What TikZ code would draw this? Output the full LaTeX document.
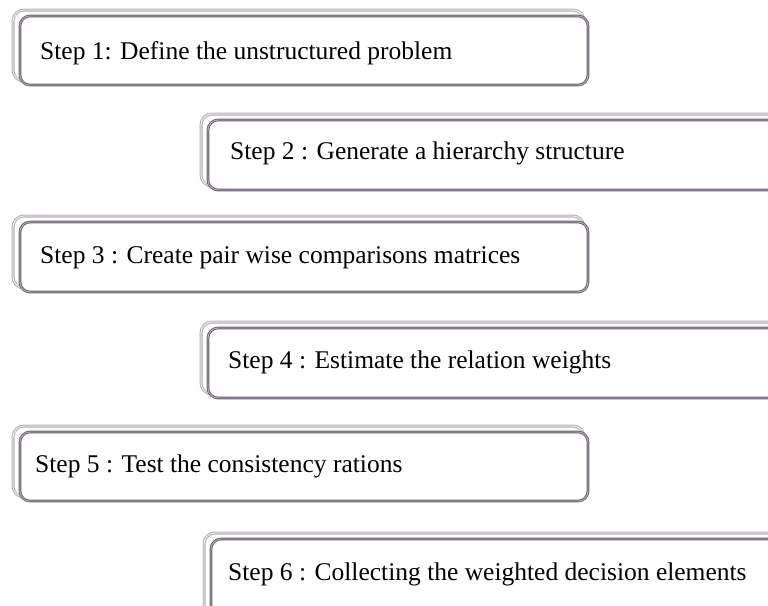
\documentclass[tikz,border=0pt]{standalone}
\usepackage{fontspec}
\setmainfont{Liberation Serif}
\begin{document}
\definecolor{frameouter}{HTML}{B7B3BA}
\definecolor{frameinner}{HTML}{6C6270}
\definecolor{framemid}{HTML}{B3ABB6}
\tikzset{
  backframe/.style={draw=frameouter, double=white!85!frameouter, double distance=0.8pt,
    line width=1.1pt, rounded corners=11pt},
  frontframe/.style={draw=frameinner, double=framemid, double distance=0.9pt,
    line width=0.9pt, fill=white, rounded corners=10pt},
  steptext/.style={anchor=west, inner sep=0pt, font=\fontsize{25.5}{28}\selectfont, text=black}
}
% each step box: light back frame offset up-left, dark double front frame
\newcommand{\stepframe}[4]{%
  \draw[backframe] (#1,#2) rectangle (#3-4,#4-4);
  \draw[frontframe] (#1+7,#2+6) rectangle (#3,#4);
}
\begin{tikzpicture}[x=1pt,y=-1pt]
  \useasboundingbox (0,0) rectangle (768,605);
  \clip (0,0) rectangle (768,605);
  \fill[white] (0,0) rectangle (768,605);

  \stepframe{13}{10}{588}{85}
  \stepframe{201}{114}{800}{190}
  \stepframe{13}{216}{588}{292}
  \stepframe{201}{322}{800}{398}
  \stepframe{13}{426}{588}{501}
  \stepframe{204}{533}{800}{625}

  \node[steptext] (s1) at (40,53) {Step 1: Define the unstructured problem};
  \node[steptext] (s2) at (230,153) {Step 2 : Generate a hierarchy structure};
  \node[steptext] (s3) at (40,258) {Step 3 : Create pair wise comparisons matrices};
  \node[steptext] (s4) at (228,362) {Step 4 : Estimate the relation weights};
  \node[steptext] (s5) at (35,466) {Step 5 : Test the consistency rations};
  \node[steptext] (s6) at (228,574) {Step 6 : Collecting the weighted decision elements};
\end{tikzpicture}
\end{document}
